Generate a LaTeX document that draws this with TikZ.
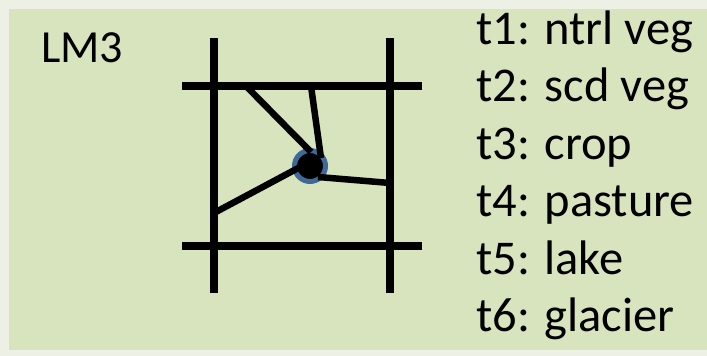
\documentclass[tikz,border=0pt]{standalone}
\usepackage{fontspec}
\setmainfont{Carlito}
\definecolor{outerbg}{HTML}{EDF0E4}
\definecolor{panel}{HTML}{D8E4BD}
\definecolor{ringblue}{HTML}{3F6A98}
\tikzset{
  gridline/.style={line width=8pt, black},
  link/.style={line width=6.5pt, black},
  label/.style={inner sep=0pt, anchor=base west, font=\fontsize{48.5}{48.5}\selectfont}
}
\begin{document}
\begin{tikzpicture}[x=1pt,y=-1pt]
\useasboundingbox (0,0) rectangle (707,356);
\fill[outerbg] (0,0) rectangle (707,356);
\fill[panel] (9,9) rectangle (707,350);
% grid
\coordinate (v1t) at (214,38); \coordinate (v1b) at (214,293);
\coordinate (v2t) at (390,38); \coordinate (v2b) at (390,293);
\coordinate (h1l) at (182,86); \coordinate (h1r) at (422,86);
\coordinate (h2l) at (182,246); \coordinate (h2r) at (422,246);
\draw[gridline] (v1t) -- (v1b);
\draw[gridline] (v2t) -- (v2b);
\draw[gridline] (h1l) -- (h1r);
\draw[gridline] (h2l) -- (h2r);
% central node
\coordinate (c) at (310,166);
\draw[ringblue, fill=black, line width=5pt] (c) circle (15.5);
\coordinate (a1) at (246,86); \coordinate (a1e) at (311,152);
\coordinate (a2) at (311,86); \coordinate (a2e) at (321,158);
\coordinate (a3) at (214,213); \coordinate (a3e) at (302,166);
\coordinate (a4) at (390,183); \coordinate (a4e) at (318,177);
\draw[link] (a1) -- (a1e);
\draw[link] (a2) -- (a2e);
\draw[link] (a3) -- (a3e);
\draw[link] (a4) -- (a4e);
\fill (c) circle (12);
% labels
\node[label, font=\fontsize{46}{46}\selectfont] (lm) at (41,62) {LM3};
\node[label] (t1) at (476,44) {t1: ntrl veg};
\node[label] (t2) at (476,101.5) {t2: scd veg};
\node[label] (t3) at (476,159) {t3: crop};
\node[label] (t4) at (476,216.5) {t4: pasture};
\node[label] (t5) at (476,274) {t5: lake};
\node[label] (t6) at (476,331.5) {t6: glacier};
\end{tikzpicture}
\end{document}
